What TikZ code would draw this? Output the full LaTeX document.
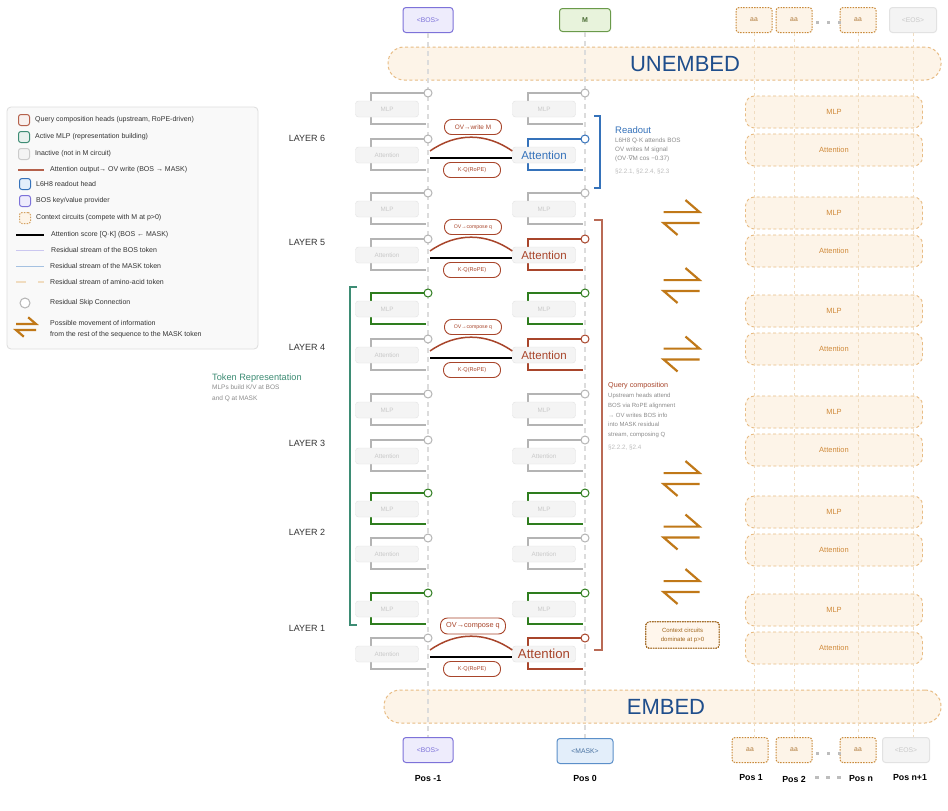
\documentclass[tikz,border=0pt]{standalone}
\usepackage{fontspec}
\setmainfont{Liberation Sans}
\newfontfamily\djv{DejaVu Sans}
\usetikzlibrary{positioning}

\newcommand{\sz}[1]{\fontsize{#1}{#1}\selectfont}

\definecolor{resgray}{HTML}{B4B4B4}
\definecolor{actgreen}{HTML}{2E7D1E}
\definecolor{qbrown}{HTML}{A8452B}
\definecolor{readblue}{HTML}{3572BA}
\definecolor{ctxorange}{HTML}{E8BC84}
\definecolor{ctxfill}{HTML}{FDF4E8}
\definecolor{ctxtext}{HTML}{D08A3A}
\definecolor{ctxstream}{HTML}{F0DCC0}
\definecolor{aadot}{HTML}{C98A3A}
\definecolor{aatext}{HTML}{B07A3A}
\definecolor{boxfill}{HTML}{F4F4F4}
\definecolor{boxline}{HTML}{E2E2E2}
\definecolor{dimtext}{HTML}{C9C9C9}
\definecolor{lightline}{HTML}{DCDCDC}
\definecolor{bospurple}{HTML}{7D72D9}
\definecolor{bosfill}{HTML}{EEECFC}
\definecolor{maskblue}{HTML}{5B8FC9}
\definecolor{maskfill}{HTML}{E3EEFA}
\definecolor{mgreen}{HTML}{6A9A4A}
\definecolor{mfill}{HTML}{E8F3DC}
\definecolor{tealrep}{HTML}{3D8C74}
\definecolor{embedblue}{HTML}{1F4E8C}
\definecolor{harp}{HTML}{C07818}
\definecolor{notegray}{HTML}{8C8C8C}
\definecolor{refgray}{HTML}{BDBDBD}
\definecolor{legfill}{HTML}{F9F9F9}
\definecolor{legline}{HTML}{DDDDDD}
\definecolor{notebrown}{HTML}{A0661E}

% one block of a layer: skip circle, residual bracket, box
\newcommand{\resblock}[6]{
  \coordinate (#1tl) at (#2-57,#3);
  \coordinate (#1bl) at (#2-57,#3+31);
  \coordinate (#1br) at (#2-2,#3+31);
  \node[skipo,draw=#4] (#1o) at (#2,#3) {};
  \draw[res,#4] (#1o.west) -- (#1tl) -- (#1bl) -- (#1br);
  \node[blockbox,#6] (#1) at (#2-41,#3+16) {#5};
}
% pair of harpoons: x, y, half length
\newcommand{\harpoons}[3]{
  \draw[harpline] (#1-#3,#2-0.3*#3) -- (#1+#3,#2-0.3*#3) -- ++(-0.78*#3,-0.67*#3);
  \draw[harpline] (#1+#3,#2+0.3*#3) -- (#1-#3,#2+0.3*#3) -- ++(0.78*#3,0.67*#3);
}

\tikzset{
  blockbox/.style={draw=boxline, fill=boxfill, rounded corners=3, minimum width=63, minimum height=16, inner sep=1, text=dimtext, font=\sz{6.3}},
  dim/.style={},
  hotblue/.style={text=readblue, font=\sz{11.5}},
  hotbrown/.style={text=qbrown, font=\sz{11.5}},
  hotbig/.style={text=qbrown, font=\sz{13.2}},
  skipo/.style={circle, draw, fill=white, line width=1, inner sep=0, minimum size=8},
  res/.style={line width=1.6},
  ovline/.style={draw=qbrown, line width=1.5},
  qkline/.style={draw=black, line width=2.5},
  pill/.style={draw=qbrown, line width=0.9, fill=white, rounded corners=7, minimum width=57, minimum height=15, inner sep=1, text=qbrown, font=\sz{5.6}},
  pillw/.style={pill, font=\sz{6.4}},
  pillc/.style={pill, font=\sz{5.2}},
  pillbig/.style={pill, minimum width=65, minimum height=16, font=\sz{7.3}},
  layerlab/.style={text=black!80, font=\sz{9}},
  band/.style={draw=ctxorange, dash pattern=on 3 off 2.5, line width=1, fill=ctxfill, rounded corners=16, minimum height=33},
  bandtext/.style={text=embedblue, font=\sz{22}},
  ctxbox/.style={draw=ctxorange, dash pattern=on 3 off 2.5, line width=0.9, fill=ctxfill, rounded corners=9, minimum width=177, minimum height=32, text=ctxtext, font=\sz{7.5}},
  tok/.style={rounded corners=3, line width=1, inner sep=0, minimum height=25, font=\sz{6.8}},
  bostok/.style={tok, draw=bospurple, fill=bosfill, text=bospurple, minimum width=50},
  masktok/.style={tok, draw=maskblue, fill=maskfill, text=maskblue!80!black, minimum width=56},
  mtok/.style={tok, draw=mgreen, fill=mfill, text=mgreen!70!black, minimum width=51, minimum height=23, font=\sz{7}\bfseries},
  aatok/.style={tok, draw=aadot, dash pattern=on 1.5 off 1.2, fill=ctxfill, text=aatext, minimum width=36},
  eostok/.style={tok, draw=boxline, fill=boxfill, text=dimtext, minimum width=47},
  poslab/.style={font=\sz{8.8}\bfseries},
  resline/.style={draw=lightline, dash pattern=on 5 off 4, line width=1.2},
  ctxline/.style={draw=ctxstream, dash pattern=on 3 off 3, line width=0.9},
  harpline/.style={draw=harp, line width=2.2},
  readbrk/.style={draw=readblue, line width=1.2},
  qbrk/.style={draw=qbrown!80, line width=1.2},
  tokbrk/.style={draw=tealrep, line width=1.4},
  ctxnote/.style={draw=notebrown, dash pattern=on 1.5 off 1, line width=0.9, fill=ctxfill!70!orange!20, rounded corners=3, minimum width=73, minimum height=26, align=center, text=notebrown, font=\fontsize{6}{9}\selectfont},
  notebody/.style={inner sep=0, align=left, text=notegray, font=\fontsize{6.3}{9}\selectfont},
  noteref/.style={inner sep=0, text=refgray, font=\sz{6.3}},
  legframe/.style={draw=legline, fill=legfill, rounded corners=4, line width=0.8},
  legicon/.style={minimum size=11, inner sep=0, rounded corners=2.5, line width=1},
  legtext/.style={inner sep=0, text=black!80, font=\sz{7}}
}

\begin{document}
\begin{tikzpicture}[x=1pt,y=-1pt]
\path[use as bounding box,fill=white] (0,0) rectangle (948,811);

% embedding bands
\node[band, minimum width=553] (unemb) at (664.5,63.5) {};
\node[bandtext] (unembtxt) at (685,64) {UNEMBED};
\node[band, minimum width=557] (emb) at (662.5,706.5) {};
\node[bandtext] (embtxt) at (666,707) {EMBED};

% context circuits at p>0
\foreach \L/\y in {6/112,5/213,4/311,3/412,2/512,1/610}{
  \node[ctxbox] (cm\L) at (834,\y) {MLP};
  \node[ctxbox] (ca\L) at (834,\y+38) {Attention};
}

% tokens
\node[bostok] (tbos) at (428,20) {<BOS>};
\node[mtok] (tm) at (585,20) {M};
\node[aatok] (ta1) at (754,20) {aa};
\node[aatok] (ta2) at (794,20) {aa};
\node[aatok] (ta3) at (858,20) {aa};
\node[eostok] (ta4) at (913,20) {<EOS>};
\node[bostok] (bbos) at (428,750) {<BOS>};
\node[masktok] (bmask) at (585,751) {<MASK>};
\node[aatok] (ba1) at (750,750) {aa};
\node[aatok] (ba2) at (794,750) {aa};
\node[aatok] (ba3) at (858,750) {aa};
\node[eostok] (ba4) at (906,750) {<EOS>};
\foreach \x in {817,828,839}{
  \fill[refgray] (\x-1.5,20.5) rectangle ++(3,3);
  \fill[refgray] (\x-1.5,751.5) rectangle ++(3,3);
  \fill[refgray] (\x-2,775.5) rectangle ++(4,3);
}
\node[poslab] (p0) at (428,779) {Pos -1};
\node[poslab] (p1) at (585,778) {Pos 0};
\node[poslab] (p2) at (751,778) {Pos 1};
\node[poslab] (p3) at (794,779) {Pos 2};
\node[poslab] (p4) at (861,779) {Pos n};
\node[poslab] (p5) at (910,778) {Pos n+1};

% residual streams
\draw[resline] (tbos) -- (bbos);
\draw[resline] (tm) -- (bmask);
\foreach \i in {1,2,3,4}
  \draw[ctxline] (ta\i.south) -- (ta\i.south |- ba\i.north);

% layers
\foreach \L/\tm/\ta/\cm/\ca/\st in {6/93/139/resgray/readblue/hotblue,
    5/193/239/resgray/qbrown/hotbrown, 4/293/339/actgreen/qbrown/hotbrown,
    3/394/440/resgray/resgray/dim, 2/493/538/actgreen/resgray/dim,
    1/593/638/actgreen/qbrown/hotbig}{
  \resblock{bm\L}{428}{\tm}{\cm}{MLP}{dim}
  \resblock{ba\L}{428}{\ta}{resgray}{Attention}{dim}
  \resblock{mm\L}{585}{\tm}{\cm}{MLP}{dim}
  \resblock{ma\L}{585}{\ta}{\ca}{Attention}{\st}
}
\foreach \L/\y in {6/138,5/242,4/347,3/443,2/532,1/628}
  \node[layerlab] (lay\L) at (307,\y) {LAYER \L};

% BOS -> MASK attention
\foreach \L/\ta/\ov/\ps in {6/139/{OV→write M}/pillw, 5/239/{OV→compose q}/pillc,
    4/339/{OV→compose q}/pillc, 1/638/{OV→compose q}/pillbig}{
  \coordinate (bq\L) at (430,\ta+12);
  \coordinate (bk\L) at (430,\ta+19);
  \draw[ovline] (bq\L) to[bend left=35] ([yshift=4]ma\L.west);
  \draw[qkline] (bk\L) -- (bk\L -| ma\L.west);
  \node[\ps] (ov\L) at (473,\ta-12) {\ov};
  \node[pill] (kq\L) at (472,\ta+31) {K·Q(RoPE)};
}

% information movement
\foreach \y in {217.5,285.5,354,478.5,532,586.5}
  \harpoons{681.5}{\y}{18}
\node[ctxnote] (ctxdom) at (682.5,635) {Context circuits\\dominate at p>0};

% annotations
\draw[readbrk] (594,116) -- (600,116) -- (600,188) -- (594,188);
\node[anchor=west, inner sep=0, text=readblue, font=\sz{9.5}] (rdt) at (615,130) {Readout};
\node[notebody, anchor=north west] (rdb) at (615,138) {L6H8 Q·K attends BOS\\OV writes M signal\\(OV·{\djv ∇}M cos −0.37)};
\node[noteref, anchor=west] (rdr) at (615,172) {§2.2.1, §2.2.4, §2.3};

\draw[qbrk] (594,220) -- (602,220) -- (602,650) -- (594,650);
\node[anchor=west, inner sep=0, text=qbrown, font=\sz{7.2}] (qct) at (608,386) {Query composition};
\node[notebody, anchor=north west, font=\fontsize{6}{9.8}\selectfont] (qcb) at (608,393) {Upstream heads attend\\BOS via RoPE alignment\\→ OV writes BOS info\\into MASK residual\\stream, composing Q};
\node[noteref, anchor=west] (qcr) at (608,448) {§2.2.2, §2.4};

\draw[tokbrk] (357,287) -- (350,287) -- (350,625) -- (357,625);
\node[anchor=west, inner sep=0, text=tealrep, font=\sz{9.2}] (trt) at (212,378) {Token Representation};
\node[notebody, anchor=north west, font=\fontsize{6.5}{11}\selectfont] (trb) at (212,385) {MLPs build K/V at BOS\\and Q at MASK};

% legend
\draw[legframe] (7,107) rectangle (258,349);
\node[legicon, draw=qbrown!85, fill=qbrown!8] (lg1) at (24,120) {};
\node[legtext, right=5 of lg1] (lt1) {Query composition heads (upstream, RoPE-driven)};
\node[legicon, draw=tealrep, fill=tealrep!12] (lg2) at (24,137) {};
\node[legtext, right=5 of lg2] (lt2) {Active MLP (representation building)};
\node[legicon, draw=boxline!90!black, fill=boxfill] (lg3) at (24,154) {};
\node[legtext, right=5 of lg3] (lt3) {Inactive (not in M circuit)};
\coordinate (lo4a) at (18,170);
\coordinate (lo4b) at (44,170);
\draw[draw=qbrown!85, line width=1.5] (lo4a) -- (lo4b);
\node[legtext, anchor=west] (lt4) at (50,170) {Attention output→ OV write (BOS → MASK)};
\node[legicon, draw=readblue, fill=maskfill] (lg5) at (25,184) {};
\node[legtext, right=5 of lg5] (lt5) {L6H8 readout head};
\node[legicon, draw=bospurple, fill=bosfill] (lg6) at (25,201) {};
\node[legtext, right=5 of lg6] (lt6) {BOS key/value provider};
\node[legicon, draw=aadot!80, dash pattern=on 1.5 off 1.2, fill=ctxfill] (lg7) at (25,218) {};
\node[legtext, right=5 of lg7] (lt7) {Context circuits (compete with M at p>0)};
\coordinate (lo8a) at (16,235);
\coordinate (lo8b) at (44,235);
\draw[line width=1.5] (lo8a) -- (lo8b);
\node[legtext, anchor=west] (lt8) at (51,235) {Attention score [Q·K] (BOS ← MASK)};
\coordinate (lo9a) at (16,250);
\coordinate (lo9b) at (44,250);
\draw[draw=bospurple!40, line width=1] (lo9a) -- (lo9b);
\node[legtext, anchor=west] (lt9) at (51,249.5) {Residual stream of the BOS token};
\coordinate (lo10a) at (16,266);
\coordinate (lo10b) at (44,266);
\draw[draw=maskblue!55, line width=1] (lo10a) -- (lo10b);
\node[legtext, anchor=west] (lt10) at (50,265.5) {Residual stream of the MASK token};
\coordinate (lo11a) at (16,282);
\coordinate (lo11b) at (44,282);
\draw[draw=ctxstream, dash pattern=on 10 off 12, line width=1.6] (lo11a) -- (lo11b);
\node[legtext, anchor=west] (lt11) at (50,281.5) {Residual stream of amino-acid token};
\node[skipo, draw=resgray, minimum size=10] (lg12) at (25,303) {};
\node[legtext, anchor=west] (lt12) at (50,303) {Residual Skip Connection};
\harpoons{26}{327}{10}
\node[legtext, anchor=west] (lt13) at (50,323) {Possible movement of information};
\node[legtext, anchor=west] (lt14) at (50,335) {from the rest of the sequence to the MASK token};
\end{tikzpicture}
\end{document}
